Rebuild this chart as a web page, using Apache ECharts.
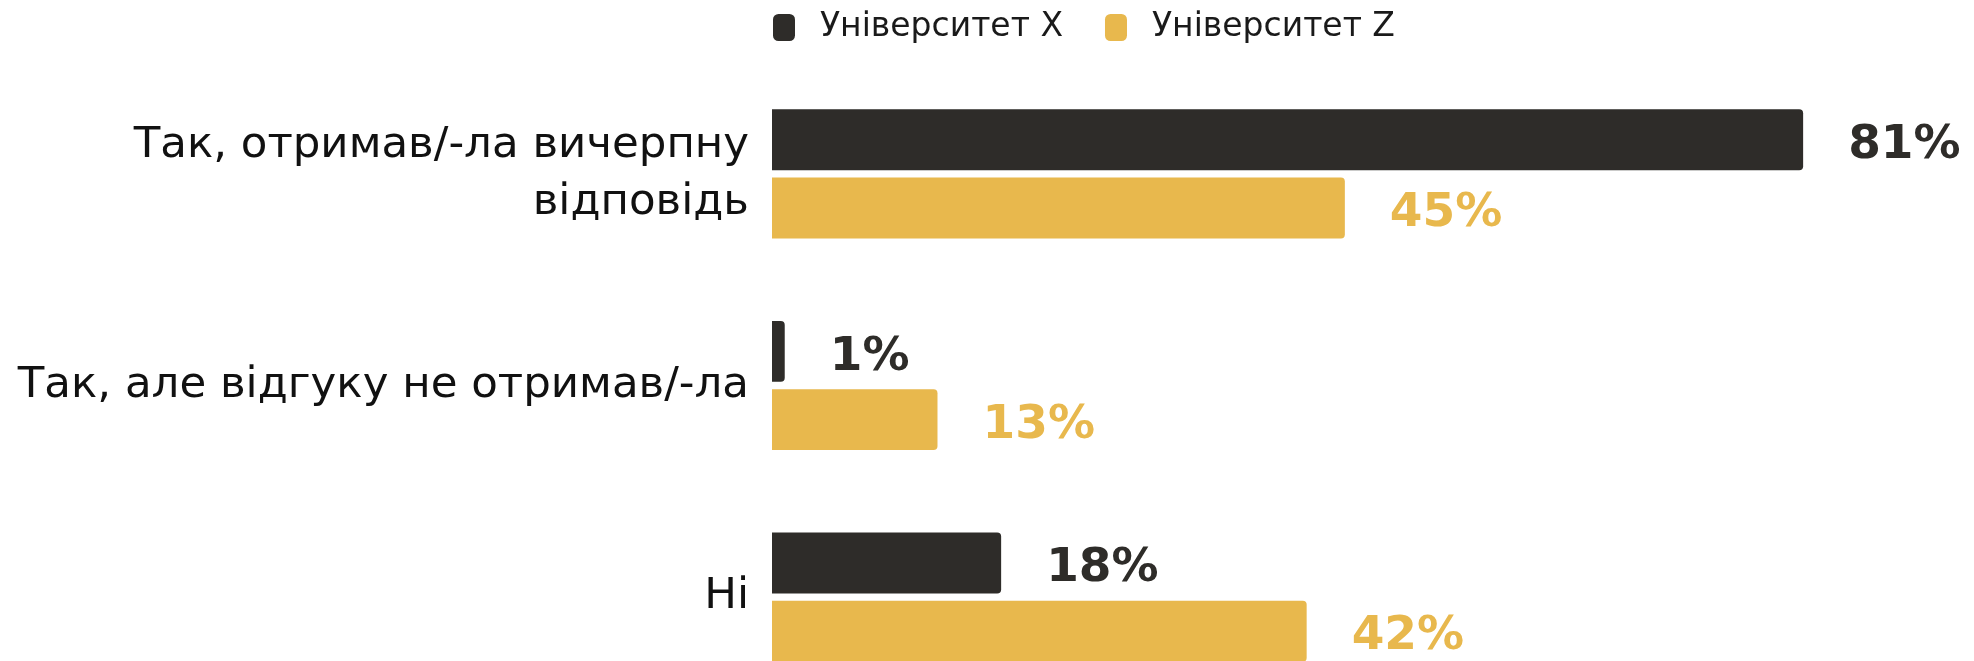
<!DOCTYPE html>
<html>
<head>
<meta charset="utf-8">
<script src="https://cdn.jsdelivr.net/npm/echarts@6/dist/echarts.min.js"></script>
<style>
    html, body { margin: 0; padding: 0; background: #ffffff; overflow: hidden; }
    #chart { width: 2100px; height: 720px; }
</style>
</head>
<body>
<div id="chart"></div>
<script>
var categories = ['Так, отримав/-ла вичерпну\nвідповідь', 'Так, але відгуку не отримав/-ла', 'Ні'];
var seriesNames = ['Університет X', 'Університет Z'];
var valuesX = [81, 1, 18];
var valuesZ = [45, 13, 42];

var colorX = '#2e2c29';
var colorZ = '#e8b84d';

var chart = echarts.init(document.getElementById('chart'));

function barSeries(name, data, color) {
    return {
        name: name,
        type: 'bar',
        data: data,
        barGap: '12%',
        barCategoryGap: '39%',
        itemStyle: {
            color: color,
            borderRadius: [0, 4, 4, 0]
        },
        label: {
            show: true,
            position: 'right',
            distance: 45,
            offset: [0, 6],
            formatter: '{c}%',
            color: color,
            fontFamily: 'DejaVu Sans',
            fontWeight: 'bold',
            fontSize: 47
        }
    };
}

var option = {
    animation: false,
    backgroundColor: '#ffffff',
    legend: {
        left: 768,
        top: 6,
        itemWidth: 22,
        itemHeight: 27,
        itemGap: 42,
        icon: 'roundRect',
        textStyle: {
            fontFamily: 'DejaVu Sans',
            fontSize: 33,
            color: '#1a1a1a',
            padding: [0, 0, 0, 20]
        },
        data: seriesNames
    },
    grid: {
        left: 772,
        top: 68,
        width: 1273,
        height: 635,
        outerBoundsMode: 'none',
        containLabel: false
    },
    xAxis: {
        type: 'value',
        min: 0,
        max: 100,
        show: false
    },
    yAxis: {
        type: 'category',
        data: categories,
        inverse: true,
        axisLine: { show: false },
        axisTick: { show: false },
        splitLine: { show: false },
        axisLabel: {
            margin: 23,
            align: 'right',
            fontFamily: 'DejaVu Sans',
            fontSize: 43.5,
            lineHeight: 57,
            padding: [13, 0, 0, 0],
            color: '#111111'
        }
    },
    series: [
        barSeries(seriesNames[0], valuesX, colorX),
        barSeries(seriesNames[1], valuesZ, colorZ)
    ]
};

chart.setOption(option);
</script>
</body>
</html>
